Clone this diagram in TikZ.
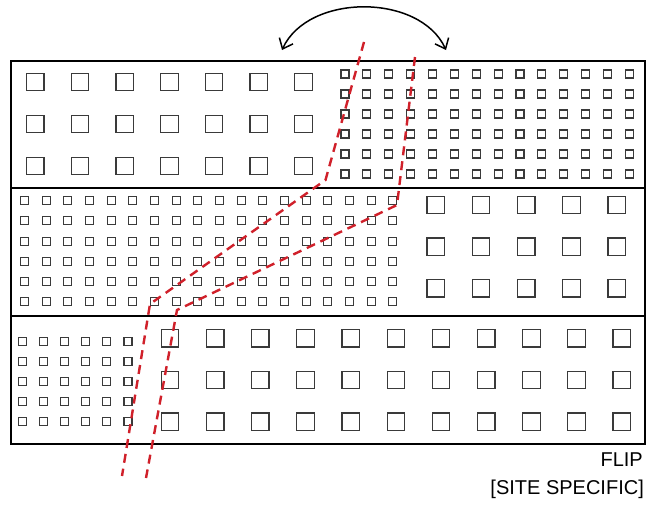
\documentclass[tikz,border=0pt]{standalone}
\usepackage{fontspec}
\setmainfont{Liberation Sans}
\usetikzlibrary{arrows.meta}
\definecolor{flipred}{HTML}{D0202A}
\definecolor{sqgray}{HTML}{3A3A3A}
\tikzset{
  band/.style={draw=black, line width=1.8pt},
  bigsq/.style={draw=sqgray, line width=1.2pt},
  smallsq/.style={draw=sqgray, line width=1.1pt},
  cutline/.style={draw=flipred, line width=2.4pt, dash pattern=on 9pt off 6pt},
  fliparrow/.style={draw=black, line width=1.5pt, {Straight Barb[length=9pt,width=15pt,line width=1.5pt]}-{Straight Barb[length=9pt,width=15pt,line width=1.5pt]}},
  label/.style={font=\fontsize{20}{24}\selectfont, inner sep=0pt}
}
\begin{document}
\begin{tikzpicture}[x=1pt,y=-1pt]
\useasboundingbox (0,0) rectangle (647,506);
\fill[white] (0,0) rectangle (647,506);
% bands
\node[band, minimum width=634pt, minimum height=127pt, anchor=north west, inner sep=0pt] (b1) at (10,60) {};
\node[band, minimum width=634pt, minimum height=128pt, anchor=north west, inner sep=0pt] (b2) at (10,187) {};
\node[band, minimum width=634pt, minimum height=128pt, anchor=north west, inner sep=0pt] (b3) at (10,315) {};
% band 1 left: big squares
\foreach \i in {0,...,6}{\foreach \y in {82,124,166}{
  \draw[bigsq] ({35.3+44.7*\i-8.75},{\y-8.75}) rectangle +(17.5,17.5);}}
% band 1 right: small squares
\foreach \i in {0,...,13}{\foreach \j in {0,...,5}{
  \draw[smallsq] ({345+21.87*\i-4},{74+20*\j-4}) rectangle +(8,8);}}
% band 2 left: small squares
\foreach \i in {0,...,17}{\foreach \j in {0,...,5}{
  \draw[smallsq] ({24.5+21.66*\i-4},{200.7+20.2*\j-4}) rectangle +(8,8);}}
% band 2 right: big squares
\foreach \i in {0,...,4}{\foreach \y in {205,246.7,288.3}{
  \draw[bigsq] ({435.7+45.25*\i-8.75},{\y-8.75}) rectangle +(17.5,17.5);}}
% band 3 left: small squares
\foreach \i in {0,...,5}{\foreach \j in {0,...,4}{
  \draw[smallsq] ({22.7+21.06*\i-4},{341.7+20*\j-4}) rectangle +(8,8);}}
% band 3 right: big squares
\foreach \i in {0,...,10}{\foreach \y in {338.3,380,421.7}{
  \draw[bigsq] ({170+45.17*\i-8.75},{\y-8.75}) rectangle +(17.5,17.5);}}
% red cut lines
\coordinate (a0) at (364,42);
\coordinate (a1) at (325.5,180);
\coordinate (a2) at (150,304);
\coordinate (a3) at (122,476);
\coordinate (c0) at (415,57);
\coordinate (c1) at (397,205);
\coordinate (c2) at (177,310);
\coordinate (c3) at (146,478);
\draw[cutline] (a0) -- (a1) -- (a2) -- (a3);
\draw[cutline] (c0) -- (c1) -- (c2) -- (c3);
% flip arrow
\coordinate (fl) at (282,50);
\coordinate (fr) at (446,50);
\draw[fliparrow] (fl) .. controls (308,-7) and (420,-7) .. (fr);
% labels
\node[label, anchor=base east] (flip) at (643,466) {FLIP};
\node[label, anchor=base east] (site) at (644,494) {[SITE SPECIFIC]};
\end{tikzpicture}
\end{document}
